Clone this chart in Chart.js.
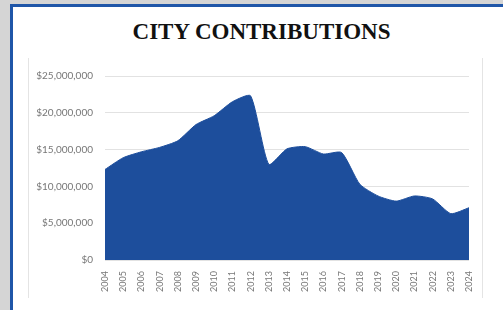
<!DOCTYPE html>
<html>
<head>
<meta charset="utf-8">
<script src="https://cdn.jsdelivr.net/npm/chart.js@4"></script>
<style>
  body { margin: 0; background: #d5d5d5; width: 503px; height: 310px; overflow: hidden; position: relative; }
  #panel { position: absolute; left: 10px; top: 4px; width: 510px; height: 320px; background: #fff; border: 3px solid #1f56a8; box-sizing: border-box; }
  #title { position: absolute; left: 10px; top: 19px; width: 503px; text-align: center; font: bold 23px "Liberation Serif", serif; color: #111; }
  #frame { position: absolute; left: 28px; top: 58px; width: 455px; height: 240px; border-left: 1px solid #e4e4e4; border-right: 1px solid #e4e4e4; box-sizing: border-box; }
  #wrap { position: absolute; left: 28px; top: 58px; width: 455px; height: 240px; }
</style>
</head>
<body>
<div id="panel"></div>
<div id="title">CITY CONTRIBUTIONS</div>
<div id="frame"></div>
<div id="wrap"><canvas id="myChart"></canvas></div>
<script>
/* data */
const years = ['2004','2005','2006','2007','2008','2009','2010','2011','2012','2013','2014',
  '2015','2016','2017','2018','2019','2020','2021','2022','2023','2024'];
const contributions = [12300000, 13900000, 14700000, 15300000, 16200000, 18400000, 19600000,
  21500000, 22300000, 13000000, 15100000, 15400000, 14400000, 14600000, 10300000, 8700000,
  8000000, 8700000, 8300000, 6300000, 7100000];
const yTicks = [0, 5000000, 10000000, 15000000, 20000000, 25000000];

function money(v){
  return '$' + v.toLocaleString('en-US');
}

const ctx = document.getElementById('myChart');
const myChart = new Chart(ctx, {
  type: 'line',
  data: {
    labels: years,
    datasets: [{
      label: 'contributions',
      data: contributions,
      fill: 'origin',
      backgroundColor: '#1d4e9c',
      borderColor: '#1d4e9c',
      borderWidth: 1,
      pointRadius: 0,
      tension: 0.2
    }]
  },
  options: {
    responsive: true,
    maintainAspectRatio: false,
    animation: false,
    plugins: {
      legend: false,
      tooltip: { enabled: false }
    },
    layout: {
      padding: { top: 12, right: 14, left: 0, bottom: 0 }
    },
    scales: {
      y: {
        min: 0,
        max: 25000000,
        afterBuildTicks: function(scale){
          scale.ticks = yTicks.map(v => ({ value: v }));
        },
        afterFit: function(scale){ scale.width = 77; },
        grid: { color: '#e2e2e2', drawTicks: false },
        border: { display: false },
        ticks: {
          padding: 12,
          color: '#777',
          font: { family: 'Lato', size: 10 },
          callback: v => money(v)
        }
      },
      x: {
        afterFit: function(scale){ scale.height = 38; },
        grid: { display: false },
        border: { display: false },
        ticks: {
          minRotation: 90,
          maxRotation: 90,
          autoSkip: false,
          padding: 3,
          color: '#777',
          font: { family: 'Lato', size: 9 }
        }
      }
    }
  }
});
</script>
</body>
</html>
